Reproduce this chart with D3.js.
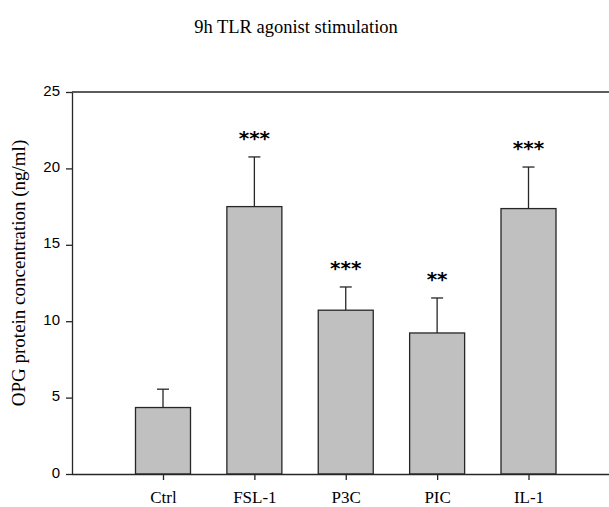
<!DOCTYPE html>
<html><head><meta charset="utf-8">
<script src="https://cdn.jsdelivr.net/npm/d3@7"></script>
<style>body{margin:0;background:#fff}svg{display:block}</style>
</head><body>
<script>
const categories = ["Ctrl","FSL-1","P3C","PIC","IL-1"];
const means = [4.35, 17.5, 10.72, 9.23, 17.37];
const errors = [1.2, 3.25, 1.52, 2.29, 2.72];
const stars = ["", "***", "***", "**", "***"];
const yTicks = [0,5,10,15,20,25];
const title = "9h TLR agonist stimulation";
const yLabel = "OPG protein concentration (ng/ml)";

const W = 609, H = 507;
const svg = d3.select("body").append("svg").attr("width", W).attr("height", H);
const plotLeft = 72, plotTop = 92, plotBottom = 474;

const y = d3.scaleLinear().domain([0,25]).range([plotBottom, plotTop]);
const x = d3.scalePoint().domain(categories).range([163, 528.5]);
const barW = 55;
const ink = "#262626";

svg.append("text").attr("x", 296).attr("y", 33).attr("text-anchor","middle")
  .attr("font-family","Liberation Serif, Times New Roman, serif").attr("font-size",18.5).attr("fill","#000")
  .text(title);

svg.append("line").attr("x1",plotLeft).attr("x2",W).attr("y1",plotTop).attr("y2",plotTop).attr("stroke",ink).attr("stroke-width",1.3);

const bars = svg.append("g");
categories.forEach((c,i)=>{
  const cx = x(c);
  bars.append("line").attr("x1",cx).attr("x2",cx).attr("y1",y(means[i])).attr("y2",y(means[i]+errors[i])).attr("stroke",ink).attr("stroke-width",1.3);
  bars.append("line").attr("x1",cx-6).attr("x2",cx+6).attr("y1",y(means[i]+errors[i])).attr("y2",y(means[i]+errors[i])).attr("stroke",ink).attr("stroke-width",1.3);
  bars.append("rect").attr("x",cx-barW/2).attr("y",y(means[i])).attr("width",barW).attr("height",y(0)-y(means[i]))
    .attr("fill","#c0c0c0").attr("stroke",ink).attr("stroke-width",1.3);
  if (stars[i]) {
    bars.append("text").attr("x",cx).attr("y",y(means[i]+errors[i])-12).attr("text-anchor","middle")
      .attr("font-family","DejaVu Sans, sans-serif").attr("font-weight","bold").attr("font-size",20).attr("fill","#000")
      .text(stars[i]);
  }
});

const yAxis = svg.append("g").attr("transform",`translate(${plotLeft},0)`)
  .call(d3.axisLeft(y).tickValues(yTicks).tickSize(6).tickPadding(6).tickSizeOuter(0));
yAxis.select(".domain").attr("stroke",ink).attr("stroke-width",1.3);
yAxis.selectAll(".tick line").attr("stroke",ink).attr("stroke-width",1.3);
yAxis.selectAll(".tick text").attr("font-family","Liberation Sans, Arial, sans-serif").attr("font-size",15).attr("fill","#000").attr("dy","0.2em");

const xAxis = svg.append("g").attr("transform",`translate(0,${plotBottom})`)
  .call(d3.axisBottom(x).tickSize(6).tickPadding(11).tickSizeOuter(0));
xAxis.select(".domain").attr("d",`M${plotLeft},0.5H${W}`).attr("stroke",ink).attr("stroke-width",1.3);
xAxis.selectAll(".tick line").attr("stroke",ink).attr("stroke-width",1.3);
xAxis.selectAll(".tick text").attr("font-family","Liberation Serif, Times New Roman, serif").attr("font-size",17).attr("fill","#000");

svg.append("text").attr("transform",`translate(25,273) rotate(-90)`).attr("text-anchor","middle")
  .attr("font-family","Liberation Serif, Times New Roman, serif").attr("font-size",19).attr("fill","#000")
  .text(yLabel);
</script>
</body></html>
